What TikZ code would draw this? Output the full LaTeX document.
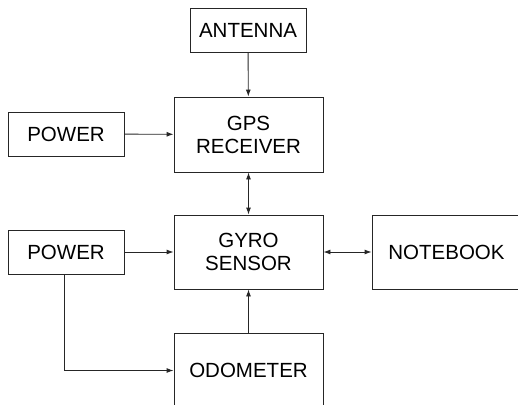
\documentclass[tikz,border=0pt]{standalone}
\usepackage{fontspec}
\setmainfont{Liberation Sans}
\usetikzlibrary{arrows.meta}
\begin{document}
\begin{tikzpicture}[x=1pt,y=-1pt,
  blk/.style={draw=black!85,line width=0.9pt,inner sep=0pt,align=center,font=\fontsize{20.5}{23}\selectfont},
  conn/.style={draw=black!85,line width=0.9pt,-{Latex[length=7pt,width=5pt]}},
  bconn/.style={draw=black!85,line width=0.9pt,{Latex[length=7pt,width=5pt]}-{Latex[length=7pt,width=5pt]}}]
\useasboundingbox (0,0) rectangle (518,404);
\clip (0,0) rectangle (518,404);
\node[blk,minimum width=116pt,minimum height=44pt] (ant) at (248,30) {ANTENNA};
\node[blk,minimum width=149pt,minimum height=75pt] (gps) at (248.5,134.5) {GPS\\RECEIVER};
\node[blk,minimum width=116pt,minimum height=44pt] (pw1) at (66,134) {POWER};
\node[blk,minimum width=149pt,minimum height=74pt] (gyro) at (248.5,252) {GYRO\\SENSOR};
\node[blk,minimum width=149pt,minimum height=74pt] (nb) at (446.5,252) {NOTEBOOK};
\node[blk,minimum width=116pt,minimum height=44pt] (pw2) at (66,252) {POWER};
\node[blk,minimum width=149pt,minimum height=75pt] (odo) at (248.5,370.5) {ODOMETER};
\draw[conn] (ant) -- (gps);
\draw[conn] (pw1) -- (gps);
\draw[bconn] (gps) -- (gyro);
\draw[conn] (pw2) -- (gyro);
\draw[bconn] (gyro) -- (nb);
\draw[conn] (odo) -- (gyro);
\draw[conn] ([xshift=-2pt]pw2.south) |- (odo.west);
\end{tikzpicture}
\end{document}
